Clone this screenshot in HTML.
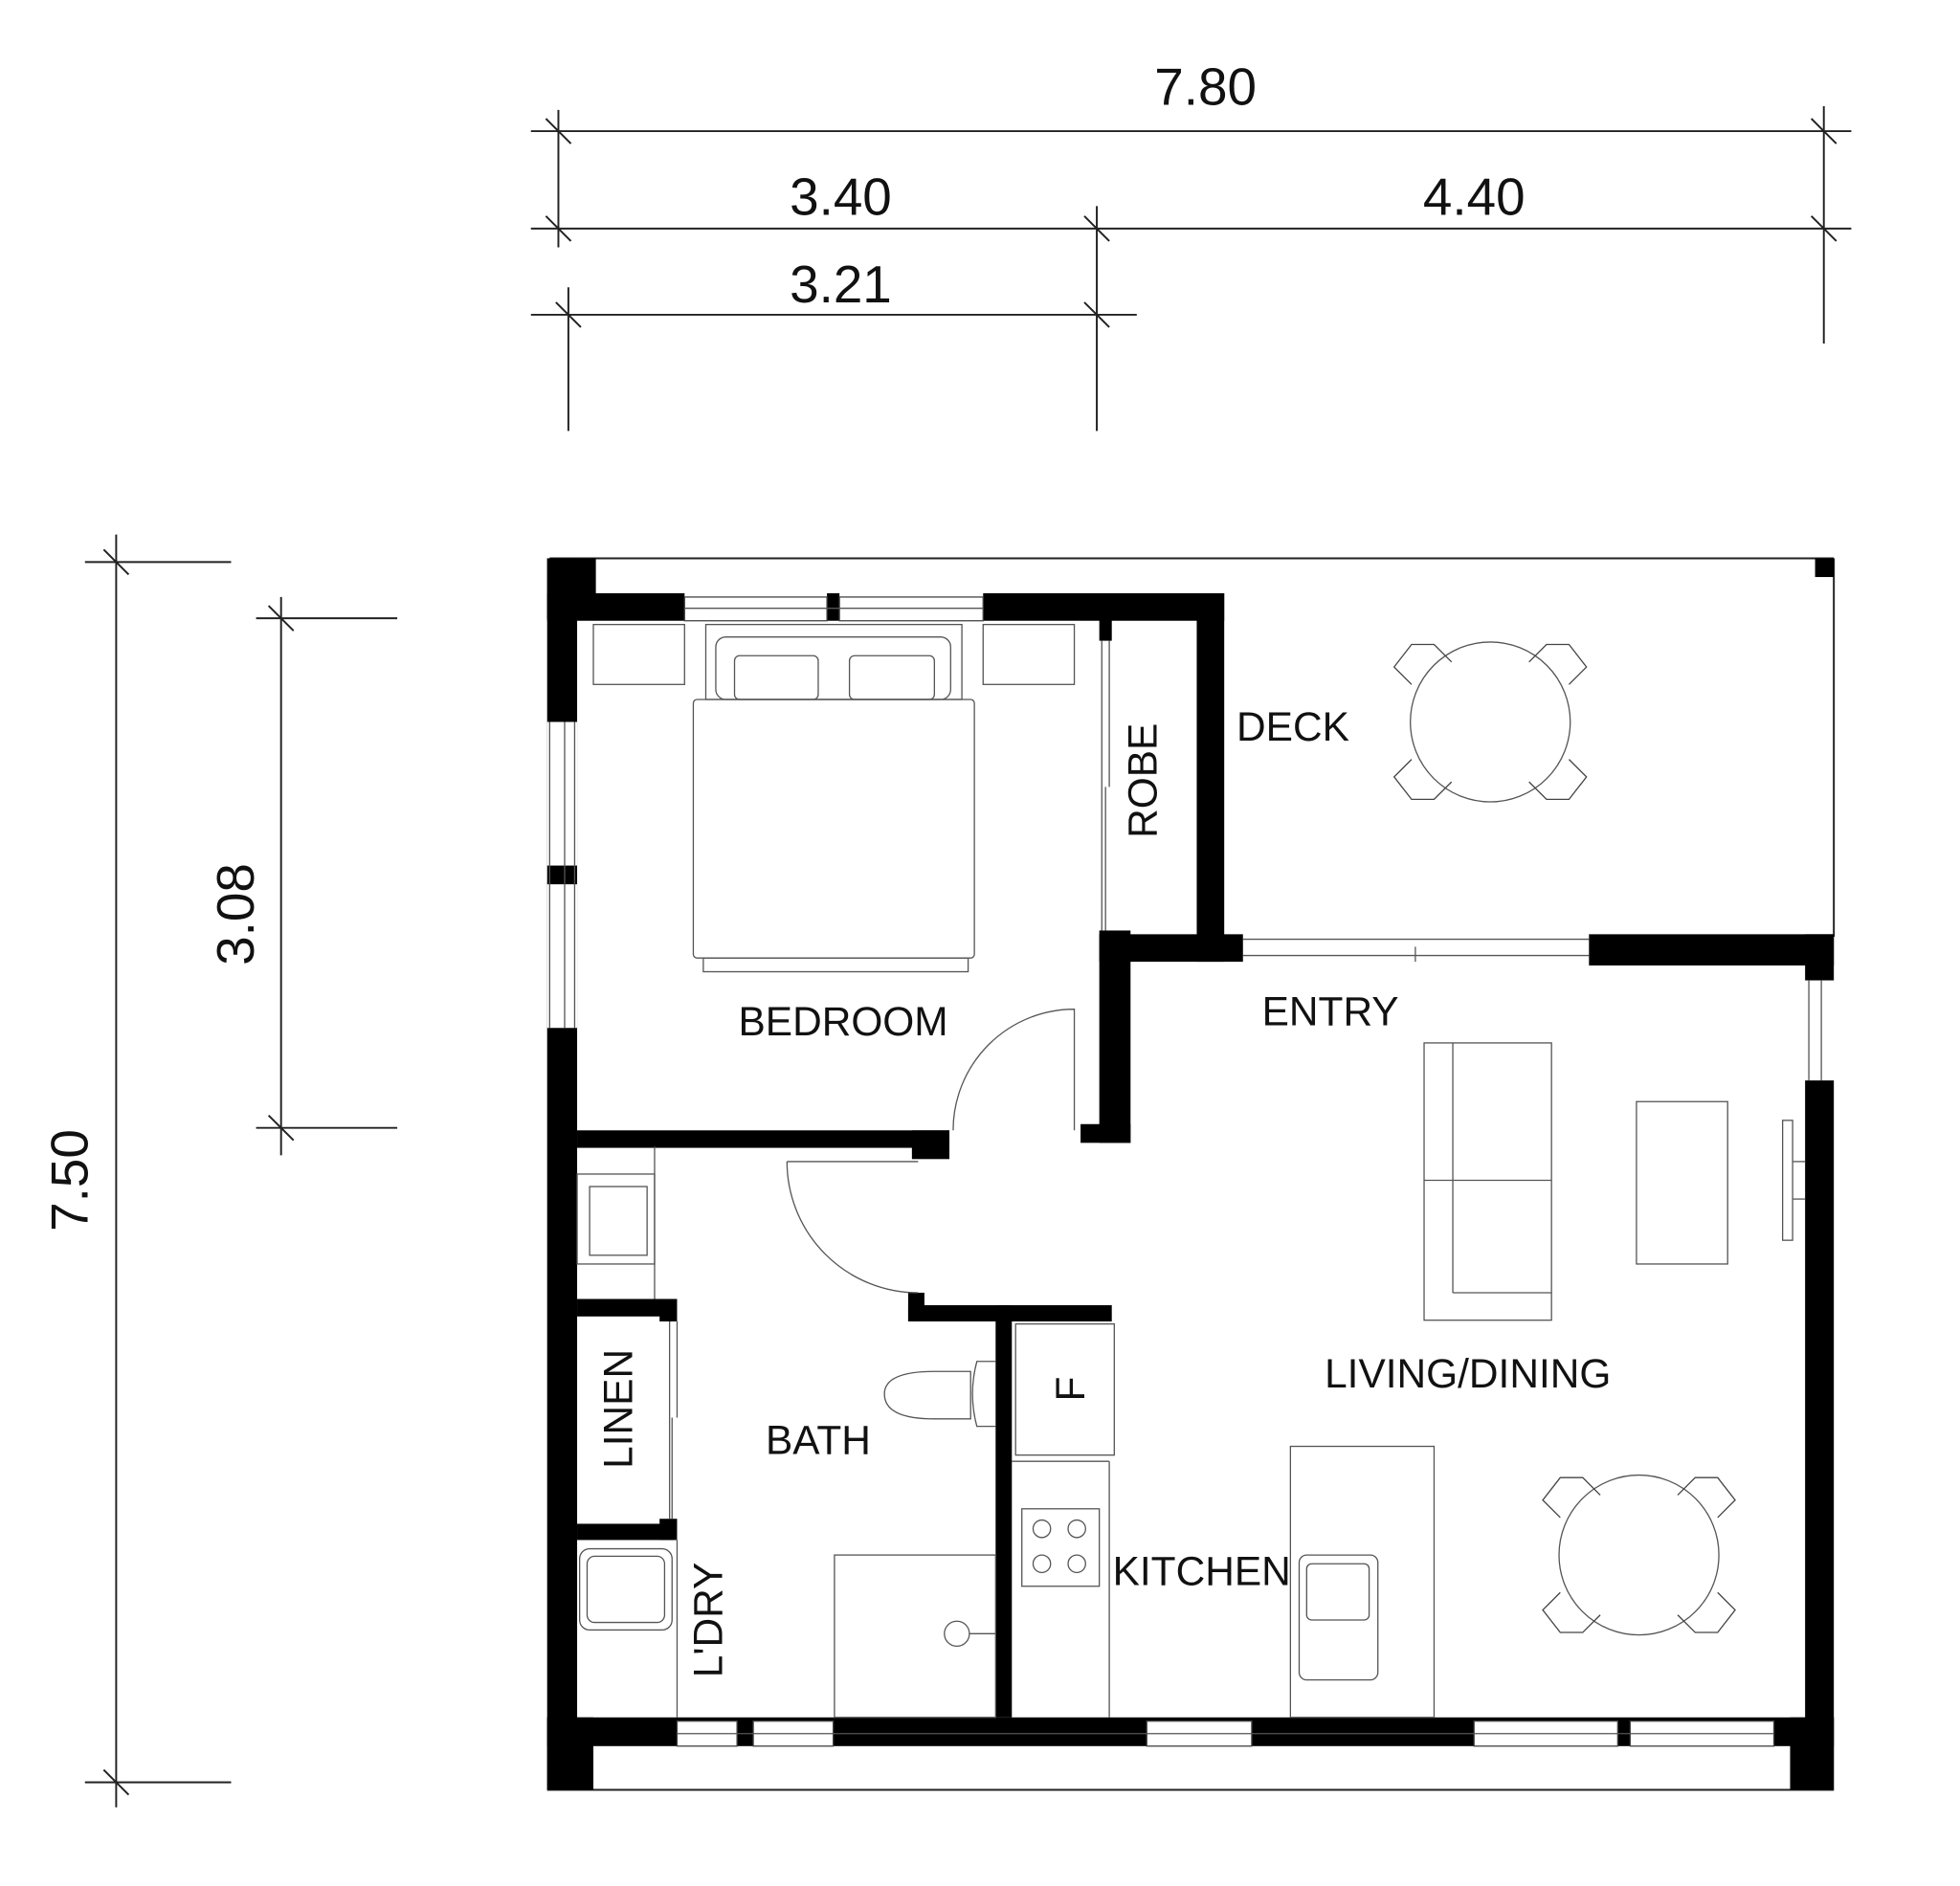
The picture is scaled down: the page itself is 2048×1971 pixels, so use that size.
<!DOCTYPE html>
<html><head><meta charset="utf-8"><style>
html,body{margin:0;padding:0;background:#fff;}
svg{display:block;}
text{font-family:"Liberation Sans",sans-serif;fill:#111;}
</style></head><body>
<svg width="2048" height="1971" viewBox="0 0 1569 1510" preserveAspectRatio="none" xmlns="http://www.w3.org/2000/svg">
<rect width="1569" height="1510" fill="#fff"/>
<g stroke="#222" stroke-width="1.5" fill="none">
<line x1="425" y1="105" x2="1482" y2="105"/>
<line x1="425" y1="183" x2="1482" y2="183"/>
<line x1="425" y1="252" x2="910" y2="252"/>
<line x1="447" y1="88" x2="447" y2="198"/>
<line x1="1460" y1="85" x2="1460" y2="275"/>
<line x1="455" y1="230" x2="455" y2="345"/>
<line x1="878" y1="165" x2="878" y2="345"/>
<line x1="437" y1="95" x2="457" y2="115"/><line x1="1450" y1="95" x2="1470" y2="115"/>
<line x1="437" y1="173" x2="457" y2="193"/><line x1="868" y1="173" x2="888" y2="193"/><line x1="1450" y1="173" x2="1470" y2="193"/>
<line x1="445" y1="242" x2="465" y2="262"/><line x1="868" y1="242" x2="888" y2="262"/>
<line x1="93" y1="428" x2="93" y2="1447"/>
<line x1="68" y1="450" x2="185" y2="450"/>
<line x1="68" y1="1427" x2="185" y2="1427"/>
<line x1="83" y1="440" x2="103" y2="460"/><line x1="83" y1="1417" x2="103" y2="1437"/>
<line x1="225" y1="478" x2="225" y2="925"/>
<line x1="205" y1="495" x2="318" y2="495"/>
<line x1="205" y1="903" x2="318" y2="903"/>
<line x1="215" y1="485" x2="235" y2="505"/><line x1="215" y1="893" x2="235" y2="913"/>
<line x1="440" y1="447" x2="1468" y2="447"/>
<line x1="1468" y1="447" x2="1468" y2="750"/>
<line x1="438" y1="1433" x2="1468" y2="1433"/>
</g>
<g font-size="42" text-anchor="middle">
<text x="965" y="84">7.80</text>
<text x="673" y="172">3.40</text>
<text x="1180" y="172">4.40</text>
<text x="673" y="242">3.21</text>
<text transform="translate(70,945) rotate(-90)">7.50</text>
<text transform="translate(203,732) rotate(-90)">3.08</text>
</g>
<g fill="#000">
<rect x="438" y="447" width="24" height="986"/>
<rect x="438" y="447" width="39" height="48"/>
<rect x="438" y="475" width="110" height="22"/>
<rect x="662" y="475" width="10" height="22"/>
<rect x="787" y="475" width="193" height="22"/>
<rect x="958" y="475" width="22" height="295"/>
<rect x="1453" y="447" width="15" height="15"/>
<rect x="880" y="748" width="115" height="22"/>
<rect x="1272" y="748" width="196" height="25"/>
<rect x="1445" y="748" width="23" height="37"/>
<rect x="1445" y="865" width="23" height="568"/>
<rect x="880" y="495" width="10" height="18"/>
<rect x="880" y="745" width="25" height="170"/>
<rect x="865" y="900" width="40" height="15"/>
<rect x="462" y="905" width="298" height="14"/>
<rect x="730" y="905" width="30" height="23"/>
<rect x="727" y="1045" width="163" height="13"/>
<rect x="727" y="1035" width="13" height="23"/>
<rect x="797" y="1045" width="13" height="330"/>
<rect x="462" y="1040" width="78" height="14"/>
<rect x="528" y="1040" width="14" height="18"/>
<rect x="462" y="1220" width="78" height="13"/>
<rect x="528" y="1216" width="14" height="17"/>
<rect x="438" y="1375" width="1030" height="23"/>
<rect x="438" y="1375" width="37" height="58"/>
<rect x="1433" y="1375" width="35" height="58"/>
<rect x="438" y="578" width="24" height="115" fill="#fff"/>
<rect x="438" y="708" width="24" height="115" fill="#fff"/>
<rect x="1445" y="785" width="23" height="80" fill="#fff"/>
</g>
<g fill="#fff" stroke="#444" stroke-width="1">
<rect x="548" y="478" width="114" height="19"/>
<rect x="672" y="478" width="115" height="19"/>
<rect x="542" y="1378" width="48" height="20"/>
<rect x="603" y="1378" width="64" height="20"/>
<rect x="918" y="1378" width="84" height="20"/>
<rect x="1180" y="1378" width="115" height="20"/>
<rect x="1305" y="1378" width="115" height="20"/>
</g>
<g stroke="#555" stroke-width="1" fill="none">
<line x1="548" y1="487" x2="787" y2="487"/>
<line x1="542" y1="1388" x2="1420" y2="1388"/>
<line x1="440" y1="578" x2="440" y2="823"/><line x1="452" y1="578" x2="452" y2="823"/><line x1="460" y1="578" x2="460" y2="823"/>
<line x1="1448" y1="785" x2="1448" y2="865"/><line x1="1458" y1="785" x2="1458" y2="865"/>
<line x1="882" y1="513" x2="882" y2="745"/><line x1="888" y1="513" x2="888" y2="630"/><line x1="885" y1="630" x2="885" y2="745"/>
<line x1="995" y1="752" x2="1272" y2="752"/><line x1="995" y1="765" x2="1272" y2="765"/><line x1="1133" y1="758" x2="1133" y2="770"/>
<line x1="536" y1="1058" x2="536" y2="1216"/><line x1="542" y1="1058" x2="542" y2="1135"/><line x1="538" y1="1135" x2="538" y2="1216"/>
<path d="M860 905 V808 A97 97 0 0 0 763 905"/>
<path d="M630 930 H735 M630 930 A105 105 0 0 0 735 1035"/>
<rect x="475" y="500" width="73" height="48"/>
<rect x="787" y="500" width="73" height="48"/>
<rect x="565" y="500" width="205" height="60"/>
<rect x="573" y="510" width="188" height="50" rx="8"/>
<rect x="588" y="525" width="67" height="35" rx="4"/>
<rect x="680" y="525" width="68" height="35" rx="4"/>
<rect x="555" y="560" width="225" height="207" rx="3"/>
<rect x="563" y="767" width="212" height="11"/>
<circle cx="1193" cy="578" r="64"/>
<circle cx="1312" cy="1245" r="64"/>
<rect x="1140" y="835" width="102" height="222"/>
<line x1="1163" y1="835" x2="1163" y2="1035"/><line x1="1140" y1="945" x2="1242" y2="945"/><line x1="1163" y1="1035" x2="1242" y2="1035"/>
<rect x="1310" y="882" width="73" height="130"/>
<rect x="1427" y="897" width="8" height="96"/><line x1="1435" y1="930" x2="1445" y2="930"/><line x1="1435" y1="960" x2="1445" y2="960"/>
<rect x="813" y="1060" width="79" height="105"/>
<line x1="810" y1="1170" x2="888" y2="1170"/><line x1="888" y1="1170" x2="888" y2="1375"/>
<rect x="818" y="1208" width="62" height="62"/>
<circle cx="834" cy="1224" r="7"/><circle cx="862" cy="1224" r="7"/><circle cx="834" cy="1252" r="7"/><circle cx="862" cy="1252" r="7"/>
<rect x="1033" y="1158" width="115" height="217"/>
<rect x="1040" y="1245" width="63" height="100" rx="6"/>
<rect x="1046" y="1252" width="50" height="45" rx="4"/>
<line x1="524" y1="918" x2="524" y2="1040"/>
<rect x="462" y="940" width="62" height="72"/><rect x="472" y="950" width="46" height="55"/>
<line x1="542" y1="1233" x2="542" y2="1375"/>
<rect x="464" y="1240" width="74" height="65" rx="8"/><rect x="470" y="1246" width="62" height="53" rx="6"/>
<path d="M797 1090 H782 Q775 1116 782 1142 H797"/>
<path d="M777 1098 H748 Q708 1098 708 1116 Q708 1136 748 1136 H777 Z"/>
<rect x="668" y="1245" width="129" height="130"/>
<circle cx="766" cy="1308" r="10"/><line x1="776" y1="1308" x2="797" y2="1308"/>
</g>
<g stroke="#444" stroke-width="1" fill="none">
<path d="M1130 548 l-14 -14 14 -18 18 0 14 14 M1256 548 l14 -14 -14 -18 -18 0 -14 14 M1130 608 l-14 14 14 18 18 0 14 -14 M1256 608 l14 14 -14 18 -18 0 -14 -14"/>
<path d="M1249 1215 l-14 -14 14 -18 18 0 14 14 M1375 1215 l14 -14 -14 -18 -18 0 -14 14 M1249 1275 l-14 14 14 18 18 0 14 -14 M1375 1275 l14 14 -14 18 -18 0 -14 -14"/>
</g>
<g font-size="32.5" text-anchor="middle">
<text x="1035" y="593">DECK</text>
<text x="675" y="829">BEDROOM</text>
<text x="1065" y="821">ENTRY</text>
<text x="1175" y="1111">LIVING/DINING</text>
<text x="655" y="1164">BATH</text>
<text x="962" y="1269">KITCHEN</text>
<text transform="translate(926,625) rotate(-90)">ROBE</text>
<text transform="translate(506,1128) rotate(-90)">LINEN</text>
<text transform="translate(578,1297) rotate(-90)">L'DRY</text>
<text transform="translate(868,1112) rotate(-90)">F</text>
</g>
</svg>
</body></html>
